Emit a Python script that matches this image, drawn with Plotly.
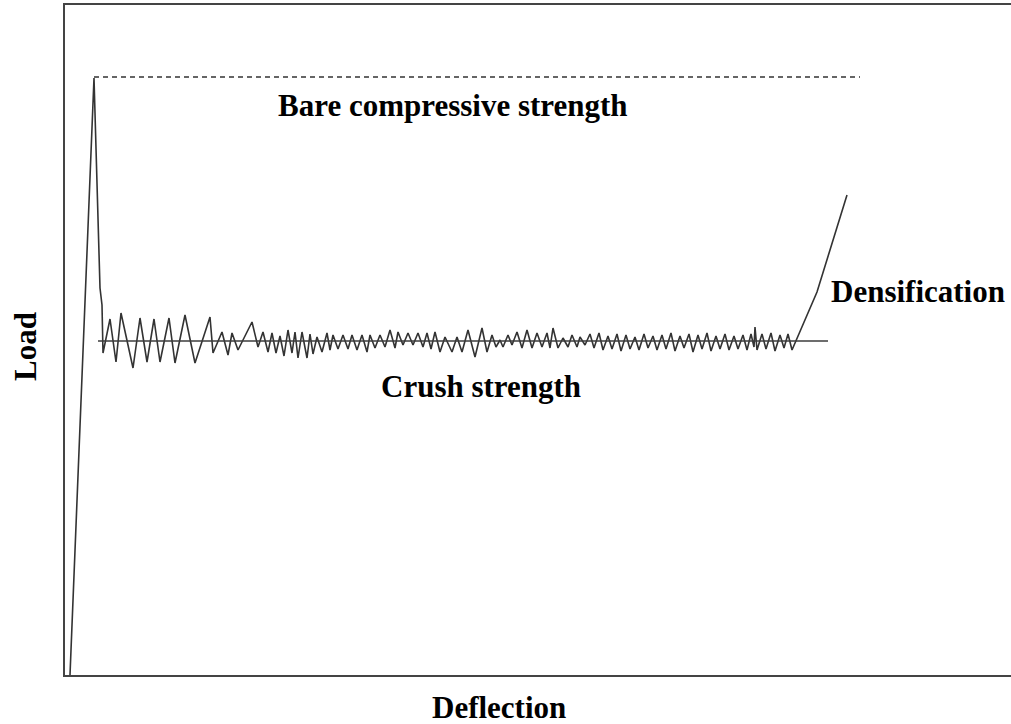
import plotly.graph_objects as go

# Load-deflection curve (deflection units, load units)
deflection = [5, 29, 35, 37, 38, 45, 51, 56, 68, 75, 82, 89, 95, 104, 110, 120, 130, 145, 148, 157, 163, 167, 173, 187, 193,
              198, 203, 207, 211, 215, 219, 223, 227, 230, 233, 237, 242, 245, 248, 252, 257, 262, 265, 268, 273, 278, 283,
              287, 292, 297, 302, 305, 310, 315, 320, 325, 330, 333, 338, 343, 348, 353, 358, 362, 366, 370, 375, 380, 387,
              392, 397, 403, 410, 417, 422, 427, 431, 435, 438, 443, 447, 452, 457, 462, 467, 472, 477, 482, 485, 488, 493,
              498, 503, 507, 512, 515, 520, 525, 529, 534, 538, 543, 547, 552, 556, 561, 565, 570, 574, 579, 583, 588, 592,
              597, 601, 606, 610, 615, 619, 624, 628, 633, 637, 642, 646, 651, 655, 660, 664, 669, 673, 678, 682, 686, 689,
              690, 692, 697, 701, 706, 710, 715, 719, 723, 727, 735, 752, 782]
load = [0, 597, 387, 370, 322, 356, 313, 362, 307, 357, 313, 356, 313, 357, 312, 360, 312, 358, 322, 343, 320, 342, 325, 353, 328,
        343, 323, 342, 322, 339, 319, 345, 322, 343, 317, 343, 317, 341, 321, 338, 323, 342, 325, 340, 326, 340, 326,
        340, 325, 340, 323, 340, 327, 340, 328, 345, 327, 343, 330, 342, 330, 342, 328, 342, 326, 343, 323, 338, 323,
        338, 323, 345, 318, 347, 323, 340, 328, 335, 328, 340, 330, 343, 327, 345, 327, 342, 328, 342, 327, 347, 327,
        337, 328, 340, 328, 338, 330, 341, 327, 342, 325, 339, 326, 341, 324, 340, 326, 338, 325, 341, 327, 339, 325,
        340, 326, 342, 324, 339, 327, 341, 323, 340, 326, 342, 324, 339, 326, 341, 325, 339, 326, 340, 325, 341, 328,
        348, 325, 341, 326, 342, 324, 340, 327, 341, 325, 343, 383, 480]

crush_x = [33, 763]
crush_y = [334, 334]
bare_x = [29, 795]
bare_y = [598, 598]

labels = ["Bare compressive strength", "Crush strength", "Densification"]
label_x = [388, 416, 764]
label_y = [570, 289, 384]

FONT = "Liberation Serif"

fig = go.Figure()
fig.add_trace(go.Scatter(x=deflection, y=load, mode="lines",
                         line=dict(color="#333333", width=1.6), showlegend=False, hoverinfo="skip"))
fig.add_trace(go.Scatter(x=crush_x, y=crush_y, mode="lines",
                         line=dict(color="#3c3c3c", width=1.5), showlegend=False, hoverinfo="skip"))
fig.add_trace(go.Scatter(x=bare_x, y=bare_y, mode="lines",
                         line=dict(color="#333333", width=1.5, dash="5px,4px"), showlegend=False, hoverinfo="skip"))

anchors = ["center", "center", "left"]
for t, xx, yy, a in zip(labels, label_x, label_y, anchors):
    fig.add_annotation(x=xx, y=yy, text=t, showarrow=False, xanchor=a, yanchor="middle",
                       font=dict(family=FONT, size=31, color="black", weight="bold"))

fig.add_annotation(x=0.459, y=-0.049, xref="paper", yref="paper", text="Deflection", showarrow=False,
                   xanchor="center", yanchor="middle",
                   font=dict(family=FONT, size=31, color="black", weight="bold"))
fig.add_annotation(x=-0.0423, y=0.491, xref="paper", yref="paper", text="Load", showarrow=False,
                   xanchor="center", yanchor="middle", textangle=-90,
                   font=dict(family=FONT, size=31, color="black", weight="bold"))

fig.update_xaxes(range=[0, 946], showline=True, linecolor="#444444", linewidth=2, mirror=True,
                 showgrid=False, zeroline=False, showticklabels=False, ticks="")
fig.update_yaxes(range=[0, 670], showline=True, linecolor="#444444", linewidth=2, mirror=False,
                 showgrid=False, zeroline=False, showticklabels=False, ticks="")

fig.update_layout(width=1011, height=724, margin=dict(l=65, r=0, t=5, b=49),
                  plot_bgcolor="white", paper_bgcolor="white")

fig.write_html("out.html", config={"displayModeBar": False},
               post_script="document.body.style.margin='0';document.body.style.overflow='hidden';")
